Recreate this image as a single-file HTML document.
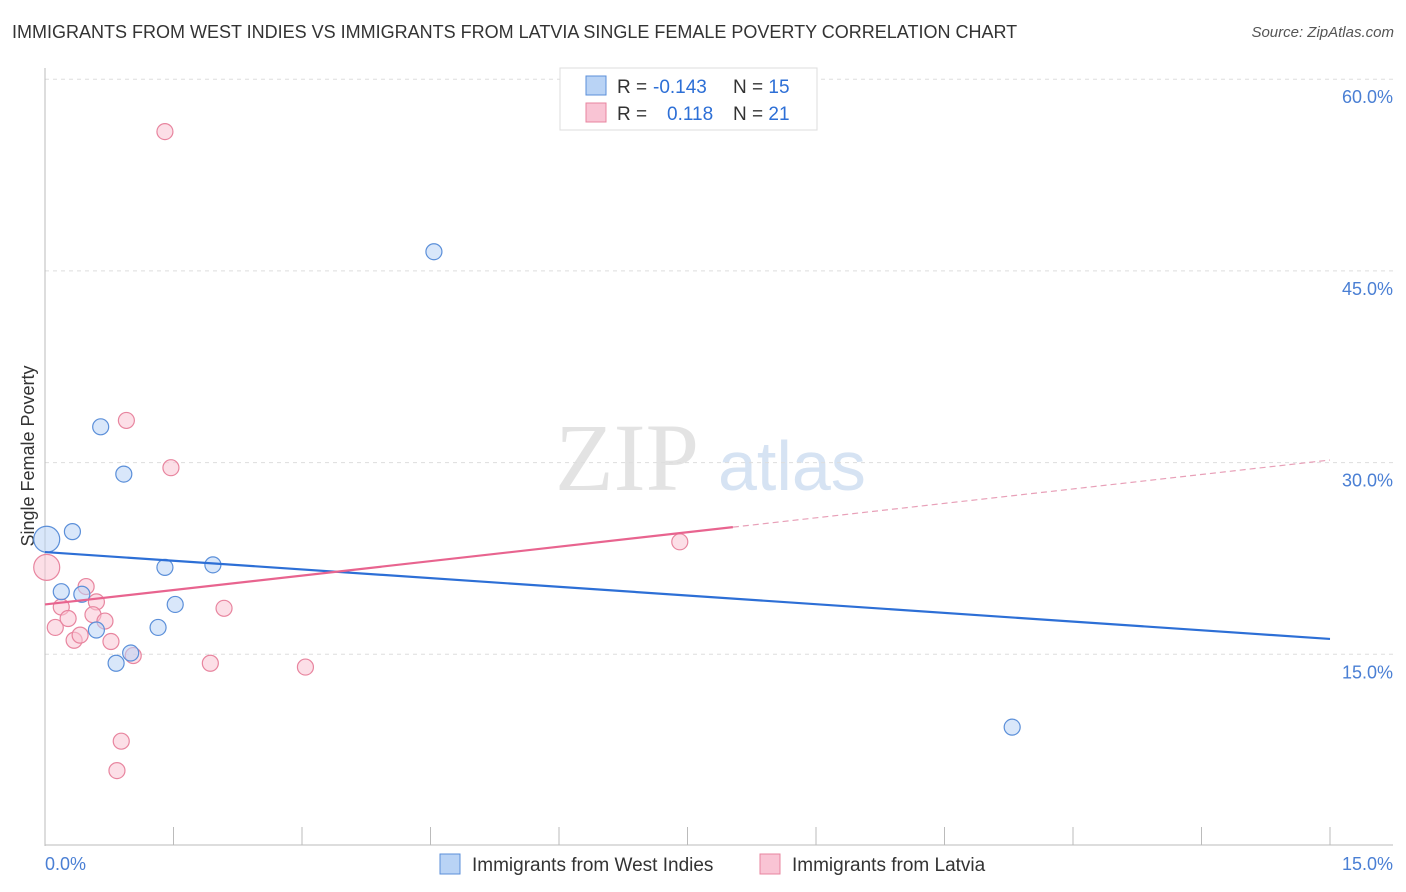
<!DOCTYPE html>
<html><head><meta charset="utf-8">
<style>
body{margin:0;background:#fff;font-family:"Liberation Sans",sans-serif;}
#wrap{position:relative;width:1406px;height:892px;overflow:hidden;}
.title{position:absolute;left:12px;top:22px;font-size:18px;color:#333;}
.source{position:absolute;right:12px;top:24px;font-size:15px;color:#555;font-style:italic;}
svg{position:absolute;left:0;top:0;}
</style></head>
<body>
<div id="wrap">
<div class="title">IMMIGRANTS FROM WEST INDIES VS IMMIGRANTS FROM LATVIA SINGLE FEMALE POVERTY CORRELATION CHART</div>
<div class="source">Source: ZipAtlas.com</div>
<svg id="chart" width="1406" height="892"></svg>
</div>
<script>
const yTicks=[15,30,45,60];
const yTickLabels=["15.0%","30.0%","45.0%","60.0%"];
const xTickCount=10;
const blueX=[0.02,0.32,0.19,0.43,0.60,0.65,0.92,0.83,1.00,1.32,1.40,1.52,1.96,4.54,11.29];
const blueY=[24.0,24.6,19.9,19.7,16.9,32.8,29.1,14.3,15.1,17.1,21.8,18.9,22.0,46.5,9.3];
const pinkX=[1.40,0.95,1.47,0.02,0.48,0.19,0.60,0.12,0.27,0.56,0.70,0.34,0.41,0.77,1.03,2.09,1.93,3.04,7.41,0.89,0.84];
const pinkY=[55.9,33.3,29.6,21.8,20.3,18.7,19.1,17.1,17.8,18.1,17.6,16.1,16.5,16.0,14.9,18.6,14.3,14.0,23.8,8.2,5.9];
const blueTrend=[23.0,16.2];
const pinkTrend=[18.9,30.2];
const pinkSolidEnd=8.03;

const NS="http://www.w3.org/2000/svg";
const svg=document.getElementById('chart');
const X0=45,X1=1330,Y0=846,PXPER=191.7/15;
const sx=v=>X0+(v/15)*(X1-X0);
const sy=v=>Y0-v*PXPER;
function mk(t,a){const e=document.createElementNS(NS,t);for(const k in a)e.setAttribute(k,a[k]);svg.appendChild(e);return e;}

// watermark
let wm=mk('text',{x:555,y:490,'font-size':96,'font-family':'Liberation Serif,serif',fill:'#e3e3e3'});


wm.textContent='ZIP';
let wm2=mk('text',{x:718,y:490,'font-size':70,'font-family':'Liberation Sans,sans-serif',fill:'#d6e3f3'});


wm2.textContent='atlas';

// gridlines + y labels
yTicks.forEach((v,i)=>{
  let g=mk('line',{x1:X0,x2:1393,y1:sy(v),y2:sy(v),stroke:'#ddd','stroke-dasharray':'4,4'});
  
  
  let t=mk('text',{x:1393,y:sy(v)+24,'text-anchor':'end','font-size':18,fill:'#4a7fd4'});
  
  
  t.textContent=yTickLabels[i];
});
// axes
let ya=mk('line',{x1:X0,x2:X0,y1:68,y2:Y0,stroke:'#bbb'});


let xa=mk('line',{x1:X0,x2:1393,y1:845,y2:845,stroke:'#bbb'});


for(let i=0;i<=xTickCount;i++){
  const x=sx(15*i/xTickCount);
  let tk=mk('line',{x1:x,x2:x,y1:827,y2:845,stroke:'#bbb'});
  
  
}
let xl0=mk('text',{x:45,y:870,'font-size':18,fill:'#4a7fd4'});


xl0.textContent='0.0%';
let xl1=mk('text',{x:1393,y:870,'text-anchor':'end','font-size':18,fill:'#4a7fd4'});


xl1.textContent='15.0%';
let yt=mk('text',{x:34,y:456,'font-size':18,fill:'#333',transform:'rotate(-90 34 456)','text-anchor':'middle'});


yt.textContent='Single Female Poverty';

// points
function pts(xs,ys,fill,stroke,name){
  xs.forEach((v,i)=>{
    const big=(v<0.05);
    let c=mk('circle',{cx:sx(v),cy:sy(ys[i]),r:big?13:8,fill:fill,stroke:stroke,'stroke-width':1.2,'fill-opacity':0.55});
    
    
  });
}
pts(pinkX,pinkY,'#f9c4d4','#e8859f','point-latvia');
pts(blueX,blueY,'#b9d3f5','#5b8fd9','point-west-indies');

// trend lines
let bt=mk('line',{x1:sx(0),y1:sy(blueTrend[0]),x2:sx(15),y2:sy(blueTrend[1]),stroke:'#2d6fd6','stroke-width':2.2});


const pAt=v=>pinkTrend[0]+(pinkTrend[1]-pinkTrend[0])*v/15;
let pt=mk('line',{x1:sx(0),y1:sy(pinkTrend[0]),x2:sx(pinkSolidEnd),y2:sy(pAt(pinkSolidEnd)),stroke:'#e8648f','stroke-width':2.2});


let pd=mk('line',{x1:sx(pinkSolidEnd),y1:sy(pAt(pinkSolidEnd)),x2:sx(15),y2:sy(pinkTrend[1]),stroke:'#e8a0b8','stroke-width':1.2,'stroke-dasharray':'6,4'});



// top legend
let lb=mk('rect',{x:560,y:68,width:257,height:62,fill:'#fff',stroke:'#ddd'});


[[76,'#b9d3f5','#5b8fd9','-0.143','15'],[103,'#f9c4d4','#e8859f','0.118','21']].forEach((r,i)=>{
  let s=mk('rect',{x:586,y:r[0],width:20,height:19,fill:r[1],stroke:r[2]});
  
  
  let t=mk('text',{x:617,y:r[0]+17,'font-size':19,fill:'#333'});
  
  
  t.innerHTML='R = <tspan fill="#2d6fd6" x="'+(i==0?653:667)+'">'+r[3]+'</tspan><tspan x="733">N = </tspan><tspan fill="#2d6fd6">'+r[4]+'</tspan>';
});

// bottom legend
[[440,'#b9d3f5','#5b8fd9','Immigrants from West Indies','legend-west-indies'],[760,'#f9c4d4','#e8859f','Immigrants from Latvia','legend-latvia']].forEach(r=>{
  let s=mk('rect',{x:r[0],y:854,width:20,height:20,fill:r[1],stroke:r[2]});
  
  
  let t=mk('text',{x:r[0]+32,y:871,'font-size':19,fill:'#333'});
  
  
  t.textContent=r[3];
});
</script>
</body></html>
